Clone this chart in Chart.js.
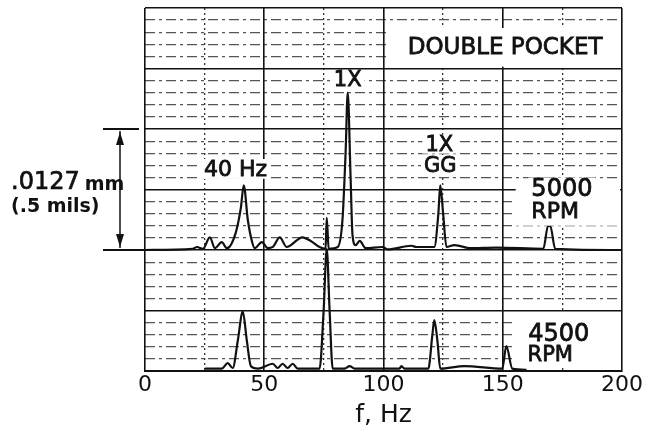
<!DOCTYPE html>
<html><head><meta charset="utf-8">
<script src="https://cdn.jsdelivr.net/npm/chart.js@4.4.0/dist/chart.umd.min.js"></script>
<style>html,body{margin:0;padding:0;background:#fff}</style>
</head><body>
<canvas id="c" width="660" height="430"></canvas>
<script>
// ---- data (amplitude in grid divisions; 1 division = 0.25 mils) ----
const freqTicks = [0, 50, 100, 150, 200];
const upperFreq = [0, 20, 21.8, 24.3, 27.2, 29.3, 32.2, 34.3, 38, 40.2, 41.4, 43.1, 44.8, 46, 49, 51.5, 53.6, 56.5, 59.4, 66, 69.5, 73.2, 75.7, 76.2, 77, 80.8, 82.8, 84.1, 85, 86.2, 87, 88.3, 90, 92.5, 99.6, 101.7, 111.7, 113.8, 118.4, 121.3, 123, 123.8, 125, 126.4, 129.7, 132.6, 136, 147.3, 167, 169, 169.9, 172, 200];
const upperAmp  = [0, 0.02, 0.05, 0.02, 0.21, 0.03, 0.13, 0.03, 0.28, 0.7, 1.07, 0.5, 0.15, 0.03, 0.13, 0.03, 0.05, 0.21, 0.05, 0.21, 0.15, 0.05, 0.02, 0.53, 0.02, 0.05, 0.5, 1.6, 2.6, 1.2, 0.25, 0.08, 0.15, 0.03, 0.05, 0.01, 0.07, 0.05, 0.05, 0.05, 0.6, 1.07, 0.6, 0.05, 0.08, 0.06, 0.03, 0.04, 0.02, 0.4, 0.4, 0.02, 0];
const lowerFreq = [25.1, 32.2, 34.7, 36.8, 38.9, 41, 42.7, 44.4, 47.3, 53.6, 55.6, 57.7, 59.8, 61.9, 64, 73.2, 74.9, 76.2, 77.4, 78.7, 83.7, 85.8, 87.9, 106.7, 107.5, 108.8, 118.8, 120.5, 121.3, 122.6, 123.8, 133.9, 149.8, 151.5, 154, 160];
const lowerAmp  = [0.04, 0.04, 0.13, 0.05, 0.5, 0.98, 0.5, 0.08, 0.04, 0.12, 0.05, 0.12, 0.05, 0.12, 0.04, 0.04, 1.0, 2.02, 1.0, 0.04, 0.04, 0.08, 0.04, 0.04, 0.08, 0.04, 0.04, 0.6, 0.84, 0.5, 0.04, 0.08, 0.04, 0.41, 0.04, 0.02];
const upperOffset = 2;          // 5000 RPM trace sits two divisions above the 4500 RPM trace
const seriesNames = ['5000 RPM', '4500 RPM'];

const FONT = '"DejaVu Sans", sans-serif';
const isInt = v => Math.abs(v - Math.round(v)) < 1e-6;

const annot = {
  id: 'annot',
  afterDatasetsDraw(chart) {
    const c = chart.ctx, xs = chart.scales.x, ys = chart.scales.y, a = chart.chartArea;
    const X = f => xs.getPixelForValue(f), Y = v => ys.getPixelForValue(v);
    c.save();
    c.fillStyle = '#fff';
    // DOUBLE POCKET box
    c.fillRect(X(100) + 3, Y(5.67), X(200) - X(100) - 6, Y(5.03) - Y(5.67));
    // blank areas behind the RPM labels
    c.fillRect(X(155) + 1, Y(3.02) - 2, X(200) - X(155) - 3, Y(2.6) - Y(3.02) + 14);
    c.fillRect(X(155) + 1, Y(1.0) + 2, X(200) - X(155) - 3, Y(0.05) - Y(1.0) - 2);
    const labels = [
      {t: 'DOUBLE POCKET', f: 151, v: 5.35, s: 23, al: 'center'},
      {t: '1X', f: 85, v: 4.81, s: 21, al: 'center'},
      {t: '40 Hz', f: 38, v: 3.34, s: 22, al: 'center'},
      {t: '1X', f: 123.4, v: 3.75, s: 21, al: 'center'},
      {t: 'GG', f: 123.8, v: 3.39, s: 21, al: 'center'},
      {t: '5000', f: 162, v: 3.02, s: 24, al: 'left'},
      {t: 'RPM', f: 162, v: 2.64, s: 22, al: 'left'},
      {t: '4500', f: 160.7, v: 0.62, s: 24, al: 'left'},
      {t: 'RPM', f: 160.4, v: 0.27, s: 21, al: 'left'}
    ];
    c.textBaseline = 'middle';
    labels.forEach(l => {
      c.font = l.s + 'px ' + FONT;
      c.textAlign = l.al;
      const w = c.measureText(l.t).width;
      const x0 = l.al === 'center' ? X(l.f) - w / 2 : X(l.f);
      c.fillStyle = '#fff';
      c.fillRect(x0 - 3, Y(l.v) - l.s * 0.45, w + 6, l.s * 0.9);
      c.fillStyle = '#111';
      c.strokeStyle = '#111';
      c.lineWidth = 0.8;
      c.fillText(l.t, X(l.f), Y(l.v) + 1);
      c.strokeText(l.t, X(l.f), Y(l.v) + 1);
    });
    // left scale annotation: 2 divisions = .0127 mm (.5 mils)
    const ax = a.left - 25, yt = Y(4), yb = Y(2);
    c.strokeStyle = '#111'; c.fillStyle = '#111';
    c.lineWidth = 2;
    c.beginPath();
    c.moveTo(a.left - 42, yt); c.lineTo(a.left - 6, yt);
    c.moveTo(a.left - 42, yb); c.lineTo(a.left, yb);
    c.stroke();
    c.lineWidth = 1.5;
    c.beginPath(); c.moveTo(ax, yt + 2); c.lineTo(ax, yb - 2); c.stroke();
    c.beginPath();
    c.moveTo(ax, yt + 3); c.lineTo(ax - 4, yt + 16); c.lineTo(ax + 4, yt + 16); c.closePath();
    c.moveTo(ax, yb - 3); c.lineTo(ax - 4, yb - 16); c.lineTo(ax + 4, yb - 16); c.closePath();
    c.fill();
    const mid = (yt + yb) / 2;
    c.textAlign = 'left';
    c.lineWidth = 0.7;
    c.font = '24px ' + FONT;
    c.fillText('.0127', 11, mid - 7);
    c.strokeText('.0127', 11, mid - 7);
    const w1 = c.measureText('.0127').width;
    c.font = 'bold 19px ' + FONT;
    c.fillText('mm', 11 + w1 + 5, mid - 4);
    c.font = 'bold 19px ' + FONT;
    c.fillText('(.5 mils)', 11, mid + 18);
    c.restore();
  }
};

const mkSet = (label, fs, amps, off) => ({
  label,
  data: fs.map((f, i) => ({x: f, y: amps[i] + off})),
  borderColor: '#111', borderWidth: 2.2, pointRadius: 0,
  cubicInterpolationMode: 'monotone', fill: false
});

new Chart(document.getElementById('c'), {
  type: 'line',
  data: {datasets: [
    mkSet(seriesNames[0], upperFreq, upperAmp, upperOffset),
    mkSet(seriesNames[1], lowerFreq, lowerAmp, 0)
  ]},
  options: {
    responsive: false, animation: false,
    layout: {padding: {left: 145, right: 38, top: 8, bottom: 2}},
    plugins: {legend: {display: false}, tooltip: {enabled: false}},
    scales: {
      xMinor: {
        type: 'linear', min: 0, max: 200, position: 'bottom',
        ticks: {display: false, stepSize: 25},
        grid: {color: ctx => (ctx.tick && ctx.tick.value % 50 === 0) ? 'rgba(0,0,0,0)' : '#333', lineWidth: 1.3, drawTicks: false},
        border: {display: false, dash: [2, 3]}
      },
      yMinor: {
        type: 'linear', min: 0, max: 6, position: 'left',
        ticks: {display: false, stepSize: 0.2},
        grid: {color: ctx => (ctx.tick && isInt(ctx.tick.value)) ? 'rgba(0,0,0,0)' : '#555', lineWidth: 1.2, drawTicks: false},
        border: {display: false, dash: [10, 4, 3, 4]}
      },
      x: {
        type: 'linear', min: 0, max: 200, position: 'bottom',
        afterBuildTicks: axis => { axis.ticks = freqTicks.map(v => ({value: v})); },
        ticks: {color: '#111', font: {family: FONT, size: 22, lineHeight: 1}, padding: 3, maxRotation: 0, autoSkip: false},
        grid: {color: '#111', lineWidth: 1.6, drawTicks: false},
        border: {display: true, color: '#111', width: 2},
        title: {display: true, text: 'f, Hz', color: '#111', font: {family: FONT, size: 25, lineHeight: 1}, padding: {top: 4, bottom: 0}}
      },
      y: {
        type: 'linear', min: 0, max: 6, position: 'left',
        ticks: {display: false, stepSize: 1},
        grid: {color: '#111', lineWidth: 1.6, drawTicks: false},
        border: {display: false}
      }
    }
  },
  plugins: [annot]
});
</script>
</body></html>
